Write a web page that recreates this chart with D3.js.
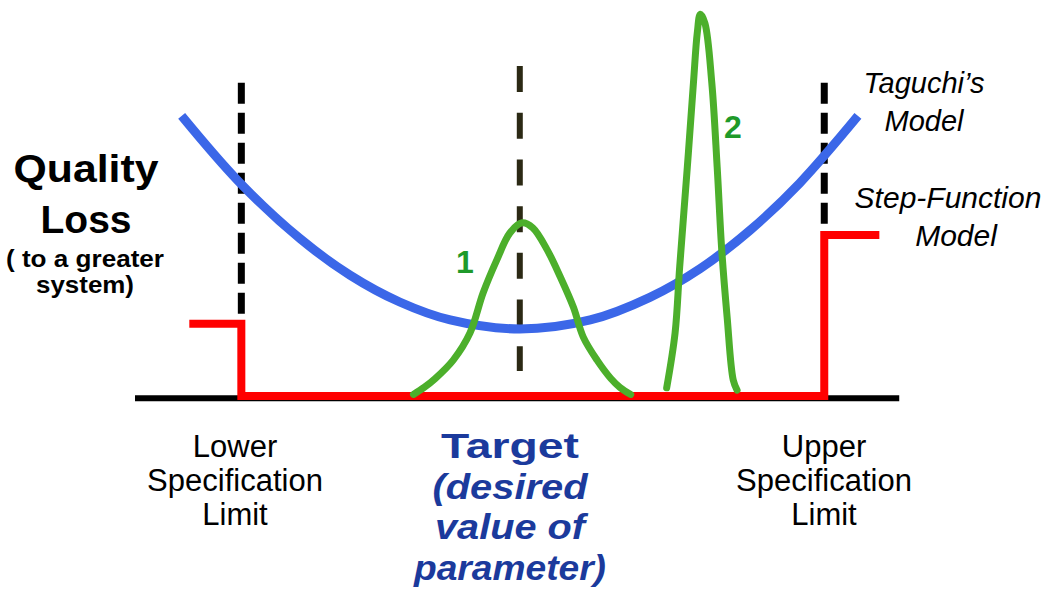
<!DOCTYPE html>
<html>
<head>
<meta charset="utf-8">
<script src="https://cdn.jsdelivr.net/npm/d3@7"></script>
<style>
  body { margin: 0; background: #fff; }
  svg { display: block; font-family: "Liberation Sans", Arial, sans-serif; }
</style>
</head>
<body>
<div id="wrapper"></div>
<script>
// data (x: parameter value 0-100, y: quality loss 0-100)
const taguchiX = [6.1, 13.5, 21.6, 28.1, 34.6, 41.2, 50.3, 59.5, 67.3, 73.9, 80.4, 86.9, 94.5];
const taguchiY = [71.8, 55.1, 40.3, 31.0, 24.1, 19.5, 17.2, 19.5, 25.3, 32.7, 42.5, 54.6, 71.8];

const stepX = [7.1, 13.9, 13.9, 90.1, 90.1, 97.3];
const stepY = [18.5, 18.5, 0, 0, 41.3, 41.3];

const dist1X = [36.4, 37.8, 39.2, 41.6, 43.8, 45.5, 47.3, 49.0, 50.6, 52.0, 53.9, 55.6, 57.3, 58.6, 60.4, 62.2, 63.4, 64.8];
const dist1Y = [0.4, 2.2, 4.4, 9.2, 16.2, 26.4, 34.9, 41.8, 44.4, 43.1, 37.4, 30.5, 22.8, 15.1, 9.2, 4.5, 2.2, 0.4];

const dist2X = [69.5, 70.6, 71.2, 72.2, 73.0, 73.5, 73.9, 74.5, 75.4, 76.1, 76.7, 77.4, 78.2, 78.7];
const dist2Y = [2.1, 16.2, 33.1, 58.7, 80.3, 93.1, 97.9, 95.6, 80.3, 58.7, 37.4, 20.3, 4.1, 1.5];

const limitNames = ["LSL", "Target", "USL"];
const limitX = [13.9, 50.3, 90.1];
const limitTop = [80.3, 84.6, 80.3];
const limitBottom = [19.5, 6.4, 43.3];

const axisExtent = [0, 99.9];

const titleLines = ["Quality", "Loss"];
const subtitleLines = ["( to a greater", "system)"];
const lslLines = ["Lower", "Specification", "Limit"];
const uslLines = ["Upper", "Specification", "Limit"];
const targetLines = ["Target", "(desired", "value of", "parameter)"];
const taguchiLabel = ["Taguchi\u2019s", "Model"];
const stepLabel = ["Step-Function", "Model"];
const distLabels = ["1", "2"];

const width = 1044, height = 601;

const svg = d3.select('#wrapper')
  .append('svg')
  .attr('width', width)
  .attr('height', height);

const xScale = d3.scaleLinear().domain([0, 100]).range([135, 900]);
const yScale = d3.scaleLinear().domain([0, 100]).range([396, 6]);

const zip = (xs, ys) => xs.map((x, i) => [x, ys[i]]);

// baseline
svg.append('line')
  .attr('x1', xScale(axisExtent[0]))
  .attr('x2', xScale(axisExtent[1]))
  .attr('y1', yScale(-0.6))
  .attr('y2', yScale(-0.6))
  .attr('stroke', '#000')
  .attr('stroke-width', 6);

// spec limit / target dashed lines
const dashStyles = {
  LSL: { color: '#000', w: 7, dash: '21,9' },
  Target: { color: '#2b2914', w: 6, dash: '26,20.7' },
  USL: { color: '#000', w: 7, dash: '21,9' }
};
limitNames.forEach((n, i) => {
  svg.append('line')
    .attr('x1', xScale(limitX[i]))
    .attr('x2', xScale(limitX[i]))
    .attr('y1', yScale(limitTop[i]))
    .attr('y2', yScale(limitBottom[i]))
    .attr('stroke', dashStyles[n].color)
    .attr('stroke-width', dashStyles[n].w)
    .attr('stroke-dasharray', dashStyles[n].dash);
});

const curve = d3.line()
  .x(d => xScale(d[0]))
  .y(d => yScale(d[1]))
  .curve(d3.curveCatmullRom.alpha(0.5));

// taguchi parabola
svg.append('path')
  .attr('d', curve(zip(taguchiX, taguchiY)))
  .attr('fill', 'none')
  .attr('stroke', '#3b67e8')
  .attr('stroke-width', 9);

// step function
svg.append('path')
  .attr('d', d3.line().x(d => xScale(d[0])).y(d => yScale(d[1]))(zip(stepX, stepY)))
  .attr('fill', 'none')
  .attr('stroke', '#ff0000')
  .attr('stroke-width', 8)
  .attr('stroke-linejoin', 'miter');

// distributions
[zip(dist1X, dist1Y), zip(dist2X, dist2Y)].forEach(pts => {
  svg.append('path')
    .attr('d', curve(pts))
    .attr('fill', 'none')
    .attr('stroke', '#4caf2b')
    .attr('stroke-width', 7)
    .attr('stroke-linecap', 'round');
});

// text helper
function addLines(lines, x, y0, dy, opts) {
  lines.forEach((t, i) => {
    const el = svg.append('text')
      .attr('x', x)
      .attr('y', y0 + i * dy)
      .attr('text-anchor', 'middle')
      .style('font-size', opts.size + 'px')
      .style('font-weight', opts.weight || 'normal')
      .style('font-style', (opts.styles && opts.styles[i]) || opts.style || 'normal')
      .attr('fill', opts.color || '#000')
      .text(t);
    if (opts.lengths && opts.lengths[i]) {
      el.attr('textLength', opts.lengths[i]).attr('lengthAdjust', 'spacingAndGlyphs');
    }
  });
}

addLines(titleLines, 86, 182, 51, { size: 39, weight: 'bold', lengths: [145, 91] });
addLines(subtitleLines, 85, 267, 26, { size: 24, weight: 'bold', lengths: [158, 98] });
addLines(lslLines, 235, 457, 34, { size: 31 });
addLines(uslLines, 824, 457, 34, { size: 31 });
addLines(targetLines, 510, 458, 40.5, {
  size: 35, weight: 'bold', color: '#1b3a9c',
  lengths: [138, 155, 150, 192],
  styles: ['normal', 'italic', 'italic', 'italic']
});
addLines(taguchiLabel, 924, 93, 38, { size: 29, style: 'italic' });

// step-function label, second line sits a bit right
svg.append('text')
  .attr('x', 948).attr('y', 208)
  .attr('text-anchor', 'middle')
  .style('font-size', '30px').style('font-style', 'italic')
  .text(stepLabel[0]);
svg.append('text')
  .attr('x', 956).attr('y', 246)
  .attr('text-anchor', 'middle')
  .style('font-size', '30px').style('font-style', 'italic')
  .text(stepLabel[1]);

// distribution numbers
const numPos = [[465, 273], [733, 138]];
distLabels.forEach((t, i) => {
  svg.append('text')
    .attr('x', numPos[i][0])
    .attr('y', numPos[i][1])
    .attr('text-anchor', 'middle')
    .style('font-size', '32px')
    .style('font-weight', 'bold')
    .attr('fill', '#1f9a2a')
    .text(t);
});
</script>
</body>
</html>
